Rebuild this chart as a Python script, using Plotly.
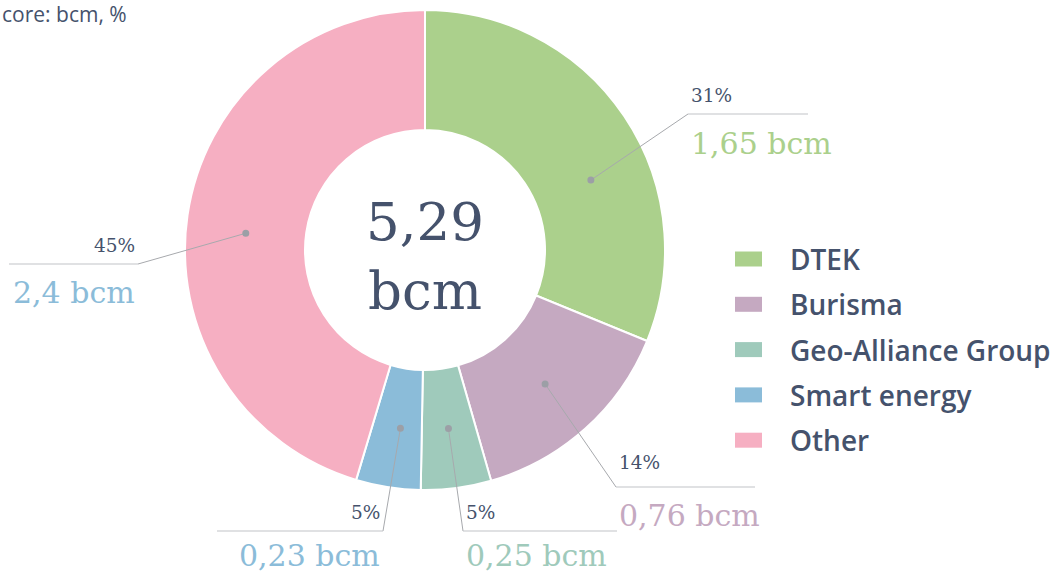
import math
import plotly.graph_objects as go

# ---- data ----
companies = ["DTEK", "Burisma", "Geo-Alliance Group", "Smart energy", "Other"]
volumes_bcm = [1.65, 0.76, 0.25, 0.23, 2.4]
value_labels = ["1,65 bcm", "0,76 bcm", "0,25 bcm", "0,23 bcm", "2,4 bcm"]
share_labels = ["31%", "14%", "5%", "5%", "45%"]
total_label = "5,29<br>bcm"
subtitle = "core: bcm, %"

# ---- style ----
W, H = 1051, 573
slice_colors = ["#abd08c", "#c5a9c1", "#9fcabb", "#8bbcd9", "#f6afc2"]
value_colors = ["#abd08c", "#c5a9c1", "#9fcabb", "#8bbcd9", "#8bbcd9"]
text_dark = "#45526c"
serif = "DejaVu Serif"
sans = "Open Sans"

CX, CY, R = 425, 250, 240  # pie centre / radius in pixels
HOLE = 0.5

def px(x):
    return x / W

def py(y):
    return 1 - y / H

# label layout (pixel space): elbow point, end of horizontal line, side, text centres
label_layout = [
    dict(elbow=(688, 114), end=808, side="right", pct_y=96, val_y=143, nudge=11),
    dict(elbow=(616, 487), end=755, side="right", pct_y=463, val_y=515, nudge=0),
    dict(elbow=(463, 531), end=617, side="right", pct_y=512, val_y=555, nudge=0),
    dict(elbow=(383, 531), end=217, side="left", pct_y=512, val_y=555, nudge=-1),
    dict(elbow=(138, 264), end=9, side="left", pct_y=245, val_y=292, nudge=-3),
]

fig = go.Figure()
fig.add_trace(go.Pie(
    labels=companies,
    values=volumes_bcm,
    hole=HOLE,
    sort=False,
    direction="clockwise",
    rotation=0,
    textinfo="none",
    hoverinfo="label+value+percent",
    marker=dict(colors=slice_colors, line=dict(color="white", width=2)),
    domain=dict(x=[px(CX - R), px(CX + R)], y=[py(CY + R), py(CY - R)]),
    showlegend=False,
))

shapes = []
annotations = []

# leader lines + labels, anchored at each slice's mid angle
total = sum(volumes_bcm)
cum = 0.0
r_mid = R * (1 + HOLE) / 2
for i, v in enumerate(volumes_bcm):
    lay = label_layout[i]
    mid = (cum + v / 2) / total * 360 + lay["nudge"]
    cum += v
    a = math.radians(mid)
    dx = CX + r_mid * math.sin(a)
    dy = CY - r_mid * math.cos(a)
    ex, ey = lay["elbow"]
    shapes.append(dict(type="line", xref="paper", yref="paper",
                       x0=px(dx), y0=py(dy), x1=px(ex), y1=py(ey),
                       line=dict(color="#a7a9ad", width=1)))
    shapes.append(dict(type="line", xref="paper", yref="paper",
                       x0=px(ex), y0=py(ey), x1=px(lay["end"]), y1=py(ey),
                       line=dict(color="#c2c4c7", width=1.2)))
    shapes.append(dict(type="circle", xref="paper", yref="paper",
                       x0=px(dx - 3.5), x1=px(dx + 3.5), y0=py(dy + 3.5), y1=py(dy - 3.5),
                       fillcolor="#9c9fa6", line=dict(width=0)))
    if lay["side"] == "right":
        tx, anchor = ex + 1, "left"
    else:
        tx, anchor = ex - 1, "right"
    annotations.append(dict(xref="paper", yref="paper", x=px(tx), y=py(lay["pct_y"]),
                            text=share_labels[i], showarrow=False, xanchor=anchor, yanchor="middle",
                            font=dict(family=serif, size=18.5, color=text_dark)))
    annotations.append(dict(xref="paper", yref="paper", x=px(tx), y=py(lay["val_y"]),
                            text=value_labels[i], showarrow=False, xanchor=anchor, yanchor="middle",
                            font=dict(family=serif, size=30, color=value_colors[i])))

# centre total
annotations.append(dict(xref="paper", yref="paper", x=px(CX), y=py(CY + 6),
                        text=total_label, showarrow=False, xanchor="center", yanchor="middle",
                        font=dict(family=serif, size=53, color=text_dark)))

# subtitle
annotations.append(dict(xref="paper", yref="paper", x=0, y=py(14), text=subtitle,
                        showarrow=False, xanchor="left", yanchor="middle",
                        font=dict(family=sans, size=21, color=text_dark)))

# manual legend
leg_x, leg_y0, leg_dy = 735, 259, 45.3
for i, name in enumerate(companies):
    yc = leg_y0 + i * leg_dy
    shapes.append(dict(type="rect", xref="paper", yref="paper",
                       x0=px(leg_x), x1=px(leg_x + 27), y0=py(yc + 7.5), y1=py(yc - 7.5),
                       fillcolor=slice_colors[i], line=dict(width=0)))
    annotations.append(dict(xref="paper", yref="paper", x=px(788), y=py(yc), text=name,
                            showarrow=False, xanchor="left", yanchor="middle",
                            font=dict(family=sans, size=28, color=text_dark, weight=600)))

fig.update_layout(
    width=W, height=H,
    margin=dict(l=0, r=0, t=0, b=0),
    paper_bgcolor="white", plot_bgcolor="white",
    shapes=shapes, annotations=annotations,
)

fig.write_html("out.html", config={"displayModeBar": False},
               post_script="document.body.style.margin='0';")
